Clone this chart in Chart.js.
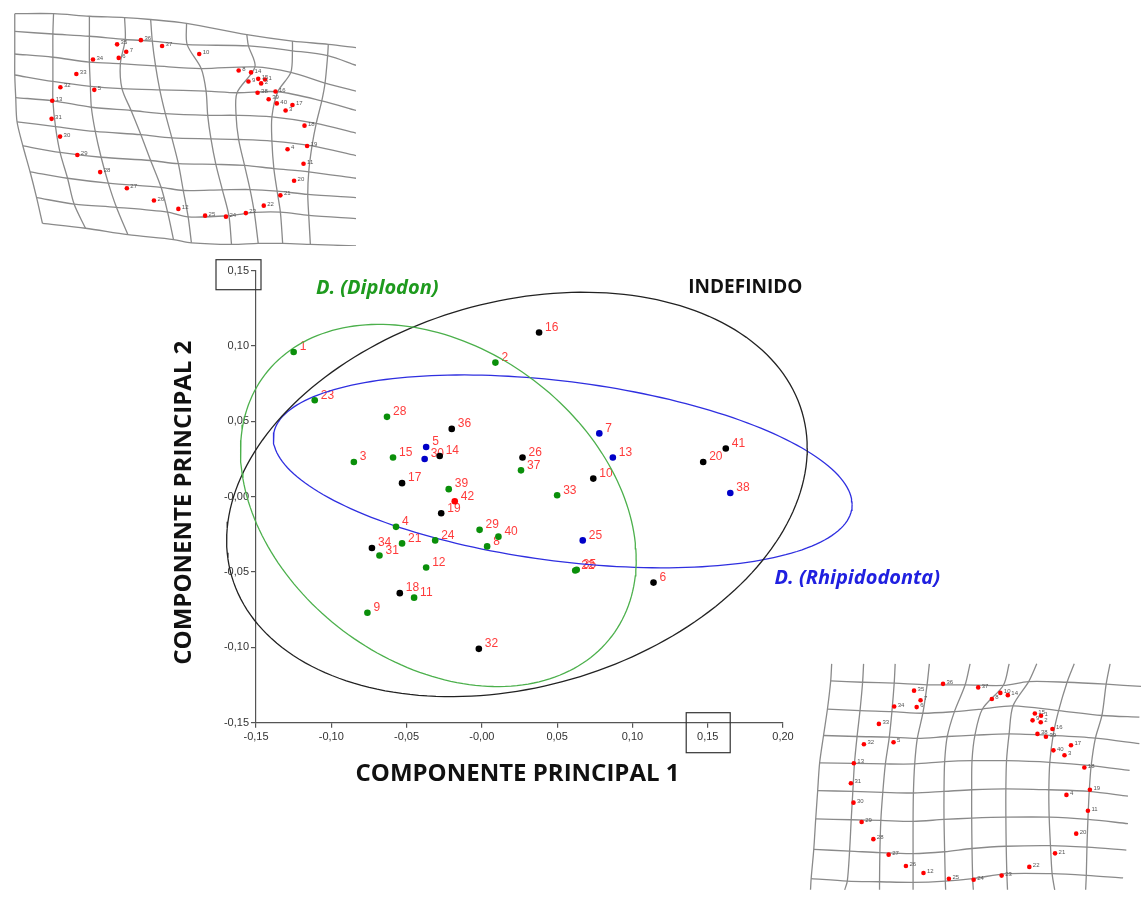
<!DOCTYPE html>
<html>
<head>
<meta charset="utf-8">
<script src="https://cdn.jsdelivr.net/npm/chart.js@4.4.1/dist/chart.umd.min.js"></script>
<style>
  body { margin: 0; background: #fff; }
  #wrap { position: relative; width: 1145px; height: 909px; overflow: hidden; }
  canvas { position: absolute; }
  #main { left: 0; top: 0; }
  #gridTL { left: 0; top: 0; }
  #gridBR { left: 800px; top: 655px; }
</style>
</head>
<body>
<div id="wrap">
  <canvas id="main" width="1145" height="909" style="width:1145px;height:909px"></canvas>
  <canvas id="gridTL" width="360" height="250" style="width:360px;height:250px"></canvas>
  <canvas id="gridBR" width="345" height="254" style="width:345px;height:254px"></canvas>
</div>
<script>
// ---- scores (PC1, PC2) ----
const ptLabels = ['1','2','3','4','5','6','7','8','9','10','11','12','13','14','15','16','17','18','19','20','21','22','23','24','25','26','28','29','30','31','32','33','34','35','36','37','38','39','40','41','42'];
const ptX = [-0.125, 0.009, -0.085, -0.057, -0.037, 0.114, 0.078, 0.0035, -0.076, 0.074, -0.045, -0.037, 0.087, -0.028, -0.059, 0.038, -0.053, -0.0545, -0.027, 0.147, -0.053, 0.062, -0.111, -0.031, 0.067, 0.027, -0.063, -0.0015, -0.038, -0.068, -0.002, 0.050, -0.073, 0.063, -0.020, 0.026, 0.165, -0.022, 0.011, 0.162, -0.018];
const ptY = [0.096, 0.089, 0.023, -0.020, 0.033, -0.057, 0.042, -0.033, -0.077, 0.012, -0.067, -0.047, 0.026, 0.027, 0.026, 0.109, 0.009, -0.064, -0.011, 0.023, -0.031, -0.049, 0.064, -0.029, -0.029, 0.026, 0.053, -0.022, 0.025, -0.039, -0.101, 0.001, -0.034, -0.0485, 0.045, 0.0175, 0.0025, 0.005, -0.0265, 0.032, -0.003];
const ptGroup = ['dip','dip','dip','dip','rhi','ind','rhi','dip','dip','ind','dip','dip','rhi','ind','dip','ind','ind','ind','ind','ind','dip','dip','dip','dip','rhi','ind','dip','dip','rhi','dip','ind','dip','ind','dip','ind','dip','rhi','dip','dip','ind','ref'];

// ---- ellipses: centre, half extents, correlation ----
const ellGroup = ['dip','ind','rhi'];
const ellCx = [-0.0289, 0.0233, 0.0537];
const ellCy = [-0.0058, 0.0015, 0.0168];
const ellSx = [0.1314, 0.1928, 0.1922];
const ellSy = [0.1202, 0.1342, 0.0640];
const ellRho = [-0.30, 0.228, -0.345];

// ---- group names ----
const grpNames = ['D. (Diplodon)', 'INDEFINIDO', 'D. (Rhipidodonta)'];
const grpKeys = ['dip', 'ind', 'rhi'];
const grpNameX = [-0.0695, 0.175, 0.2493];
const grpNameY = [0.1385, 0.1385, -0.0539];

// ---- axes ----
const xTickLabels = ['-0,15','-0,10','-0,05','-0,00','0,05','0,10','0,15','0,20'];
const yTickLabels = ['-0,15','-0,10','-0,05','-0,00','0,05','0,10','0,15'];
const xTitle = 'COMPONENTE PRINCIPAL 1';
const yTitle = 'COMPONENTE PRINCIPAL 2';

// ---- deformation grid, top left (nodes: rows x columns) ----
const tlGridX = [
  [33, 152, 262, 370, 450, 560, 745, 885, 995, 1080],
  [33, 150, 262, 372, 455, 562, 750, 885, 993, 1080],
  [33, 150, 262, 357, 465, 605, 770, 880, 985, 1080],
  [33, 150, 265, 362, 478, 620, 715, 840, 975, 1080],
  [36, 150, 268, 390, 495, 625, 712, 822, 958, 1080],
  [40, 158, 280, 420, 515, 635, 720, 822, 945, 1080],
  [58, 172, 298, 450, 535, 650, 738, 828, 935, 1080],
  [80, 195, 320, 482, 550, 670, 755, 838, 932, 1080],
  [100, 215, 345, 502, 565, 690, 768, 848, 935, 1080],
  [118, 250, 380, 520, 575, 698, 780, 855, 940, 1080]
];
const tlGridY = [
  [30, 30, 38, 42, 48, 60, 95, 115, 125, 135],
  [85, 93, 100, 110, 115, 126, 130, 145, 160, 190],
  [155, 165, 180, 185, 192, 200, 195, 212, 245, 270],
  [220, 240, 255, 262, 266, 270, 275, 272, 300, 330],
  [290, 300, 320, 330, 340, 345, 345, 350, 370, 400],
  [365, 380, 395, 405, 415, 418, 420, 425, 440, 470],
  [440, 460, 475, 485, 495, 497, 500, 510, 520, 540],
  [520, 540, 555, 568, 578, 576, 575, 580, 590, 600],
  [600, 620, 630, 645, 660, 656, 646, 645, 655, 665],
  [680, 695, 715, 730, 740, 745, 742, 742, 745, 750]
];
const tlLmLabels = ['35','36','37','7','6','34','33','32','5','13','31','30','29','28','27','26','12','25','24','23','22','21','20','11','19','4','18','3','17','40','39','16','38','2','1','15','9','14','8','10'];
const tlLmX = [347, 420, 485, 375, 352, 273, 222, 173, 277, 148, 146, 172, 225, 295, 377, 460, 535, 617, 681, 742, 797, 848, 890, 919, 930, 870, 922, 864, 885, 837, 812, 833, 778, 789, 801, 780, 750, 758, 720, 599];
const tlLmY = [125, 112, 130, 148, 167, 172, 217, 258, 266, 300, 356, 411, 468, 521, 571, 609, 635, 656, 659, 648, 625, 593, 548, 495, 440, 450, 377, 330, 313, 308, 295, 271, 275, 246, 234, 232, 240, 212, 206, 155];

// ---- deformation grid, bottom right ----
const brGridX = [
  [85, 183, 280, 385, 510, 630, 715, 830, 940, 1035],
  [82, 180, 277, 378, 495, 612, 690, 808, 928, 1035],
  [72, 172, 270, 365, 462, 548, 642, 782, 915, 1030],
  [60, 163, 262, 348, 440, 525, 630, 765, 895, 1030],
  [48, 155, 250, 340, 432, 516, 622, 755, 882, 1000],
  [42, 150, 242, 336, 430, 515, 620, 752, 876, 995],
  [36, 145, 236, 335, 430, 515, 620, 753, 872, 995],
  [30, 140, 233, 335, 432, 516, 621, 757, 869, 990],
  [22, 133, 232, 335, 434, 518, 623, 762, 867, 980],
  [20, 125, 232, 335, 435, 520, 625, 770, 865, 980]
];
const brGridY = [
  [15, 15, 15, 15, 15, 15, 15, 15, 15, 15],
  [68, 72, 75, 80, 80, 82, 70, 72, 78, 85],
  [155, 160, 163, 168, 163, 155, 145, 160, 175, 180],
  [237, 240, 242, 246, 240, 236, 232, 237, 245, 262],
  [322, 323, 325, 325, 318, 315, 315, 320, 330, 345],
  [408, 410, 413, 415, 410, 405, 402, 405, 410, 425],
  [495, 498, 500, 503, 497, 493, 490, 490, 497, 510],
  [590, 595, 600, 603, 597, 587, 580, 578, 583, 592],
  [680, 688, 690, 692, 688, 680, 665, 665, 670, 678],
  [715, 715, 715, 715, 715, 715, 715, 715, 715, 715]
];
const brLmLabels = ['35','36','37','7','6','34','33','32','5','13','31','30','29','28','27','26','12','25','24','23','22','21','20','11','19','4','18','3','17','40','39','38','16','2','9','1','15','8','10','14'];
const brLmX = [338, 427, 535, 358, 346, 277, 230, 184, 275, 153, 144, 152, 177, 213, 260, 313, 367, 445, 521, 607, 692, 771, 836, 872, 878, 806, 861, 800, 820, 766, 743, 717, 763, 727, 702, 728, 709, 577, 603, 626];
const brLmY = [98, 77, 88, 128, 149, 147, 201, 264, 258, 323, 385, 445, 505, 558, 606, 641, 663, 681, 684, 671, 644, 602, 541, 470, 405, 421, 336, 298, 267, 283, 241, 232, 217, 196, 190, 176, 169, 124, 105, 112];

// ---- styles ----
const pointColor = { dip: '#0a8f0a', ind: '#000000', rhi: '#0000c8', ref: '#ff0000' };
const ellColor = { dip: '#4cb04c', ind: '#222222', rhi: '#2f2fe0' };
const nameColor = { dip: '#1e9a1e', ind: '#111111', rhi: '#2020e0' };

function ellipsePoints(i) {
  const pts = [];
  const q = Math.sqrt(1 - ellRho[i] * ellRho[i]);
  for (let k = 0; k <= 200; k++) {
    const t = 2 * Math.PI * k / 200;
    pts.push({ x: ellCx[i] + ellSx[i] * Math.cos(t),
               y: ellCy[i] + ellSy[i] * (ellRho[i] * Math.cos(t) + q * Math.sin(t)) });
  }
  return pts;
}

const datasets = [];
['dip', 'ind', 'rhi', 'ref'].forEach(g => {
  const data = [], txt = [];
  ptLabels.forEach((lab, i) => {
    if (ptGroup[i] === g) { data.push({ x: ptX[i], y: ptY[i] }); txt.push(lab); }
  });
  datasets.push({
    data: data, ptText: txt, order: 0,
    pointRadius: 3.3, pointBackgroundColor: pointColor[g], pointBorderColor: pointColor[g],
    pointBorderWidth: 0, showLine: false
  });
});
ellGroup.forEach((g, i) => {
  datasets.push({
    data: ellipsePoints(i), order: 1, showLine: true, pointRadius: 0, clip: false,
    borderColor: ellColor[g], borderWidth: 1.3, fill: false, tension: 0
  });
});

// labels next to each point (under the dots)
const pointLabelPlugin = {
  id: 'pointLabels',
  beforeDatasetsDraw(chart) {
    const ctx = chart.ctx;
    ctx.save();
    ctx.font = '12px "Liberation Sans", Arial, sans-serif';
    ctx.fillStyle = '#ff3b3b';
    ctx.textBaseline = 'middle';
    ctx.textAlign = 'left';
    chart.data.datasets.forEach((ds, di) => {
      if (!ds.ptText) return;
      chart.getDatasetMeta(di).data.forEach((el, k) => {
        ctx.fillText(ds.ptText[k], el.x + 6, el.y - 5);
      });
    });
    ctx.restore();
  }
};

// axis titles, group names and the two tick boxes
const decorPlugin = {
  id: 'decor',
  afterDraw(chart) {
    const ctx = chart.ctx, ca = chart.chartArea;
    const xs = chart.scales.x, ys = chart.scales.y;
    ctx.save();
    ctx.fillStyle = '#111';
    ctx.font = 'bold 24px "Open Sans", sans-serif';
    ctx.textAlign = 'center';
    ctx.textBaseline = 'middle';
    ctx.fillText(xTitle, (ca.left + ca.right) / 2 - 2, ca.bottom + 51);
    ctx.save();
    ctx.translate(ca.left - 72, (ca.top + ca.bottom) / 2 + 6);
    ctx.rotate(-Math.PI / 2);
    ctx.fillText(yTitle, 0, 0);
    ctx.restore();

    grpNames.forEach((n, i) => {
      const g = grpKeys[i];
      ctx.font = (g === 'ind' ? 'bold 19px' : 'italic bold 20px') + ' "Open Sans", sans-serif';
      ctx.fillStyle = nameColor[g];
      ctx.fillText(n, xs.getPixelForValue(grpNameX[i]), ys.getPixelForValue(grpNameY[i]));
    });

    ctx.strokeStyle = '#333';
    ctx.lineWidth = 1.2;
    const yb = ys.getPixelForValue(0.15);
    ctx.strokeRect(ca.left - 40, yb - 11, 45, 30);
    const xb = xs.getPixelForValue(0.15);
    ctx.strokeRect(xb - 21.5, ca.bottom - 10, 44, 40);
    ctx.restore();
  }
};

const tickFont = { family: '"Liberation Sans", Arial, sans-serif', size: 11 };
new Chart(document.getElementById('main'), {
  type: 'scatter',
  data: { datasets: datasets },
  options: {
    responsive: false,
    animation: false,
    events: [],
    layout: { padding: { left: 196, right: 362, top: 270.7, bottom: 156.3 } },
    plugins: { legend: { display: false }, tooltip: { enabled: false } },
    scales: {
      x: {
        type: 'linear', min: -0.15, max: 0.20,
        afterFit: s => { s.height = 30; },
        ticks: { stepSize: 0.05, autoSkip: false, maxRotation: 0, padding: 3, color: '#333', font: tickFont,
                 callback: (v, i) => xTickLabels[i] },
        grid: { drawOnChartArea: false, drawTicks: true, tickLength: 5, color: '#555', lineWidth: 1.2 },
        border: { display: true, color: '#555', width: 1.2 }
      },
      y: {
        type: 'linear', min: -0.15, max: 0.15,
        afterFit: s => { s.width = 60; },
        ticks: { stepSize: 0.05, autoSkip: false, padding: 2, color: '#333', font: tickFont,
                 callback: (v, i) => yTickLabels[i] },
        grid: { drawOnChartArea: false, drawTicks: true, tickLength: 5, color: '#555', lineWidth: 1.2 },
        border: { display: true, color: '#555', width: 1.2 }
      }
    }
  },
  plugins: [pointLabelPlugin, decorPlugin]
});

// ---- thin-plate spline grids ----
function makeGrid(id, gx, gy, rowFrom, rowTo, colTo, xMax, yMax, lmX, lmY, lmLab) {
  const ds = [];
  const line = pts => ({ data: pts, showLine: true, pointRadius: 0, borderColor: '#8a8a8a',
                         borderWidth: 1.3, tension: 0.3, fill: false });
  for (let r = rowFrom; r <= rowTo; r++) {
    ds.push(line(gx[r].map((x, c) => ({ x: x, y: gy[r][c] }))));
  }
  for (let c = 0; c <= colTo; c++) {
    ds.push(line(gx.map((row, r) => ({ x: row[c], y: gy[r][c] }))));
  }
  ds.unshift({
    data: lmX.map((x, i) => ({ x: x, y: lmY[i] })), lmText: lmLab, showLine: false,
    pointRadius: 2.3, pointBackgroundColor: '#ff0000', pointBorderColor: '#ff0000', pointBorderWidth: 0
  });
  const lmLabelPlugin = {
    id: 'lmLabels',
    afterDatasetsDraw(chart) {
      const ctx = chart.ctx;
      ctx.save();
      ctx.font = '6px "Liberation Sans", Arial, sans-serif';
      ctx.fillStyle = '#555';
      ctx.textBaseline = 'middle';
      chart.getDatasetMeta(0).data.forEach((el, k) => {
        ctx.fillText(chart.data.datasets[0].lmText[k], el.x + 3.5, el.y - 1.5);
      });
      ctx.restore();
    }
  };
  new Chart(document.getElementById(id), {
    type: 'scatter',
    data: { datasets: ds },
    options: {
      responsive: false, animation: false, events: [],
      layout: { padding: 0 },
      plugins: { legend: { display: false }, tooltip: { enabled: false } },
      scales: {
        x: { type: 'linear', display: false, min: 0, max: xMax },
        y: { type: 'linear', display: false, min: 0, max: yMax, reverse: true }
      }
    },
    plugins: [lmLabelPlugin]
  });
}

makeGrid('gridTL', tlGridX, tlGridY, 0, 9, 8, 1080, 750, tlLmX, tlLmY, tlLmLabels);
makeGrid('gridBR', brGridX, brGridY, 1, 8, 8, 1035, 762, brLmX, brLmY, brLmLabels);
</script>
</body>
</html>
